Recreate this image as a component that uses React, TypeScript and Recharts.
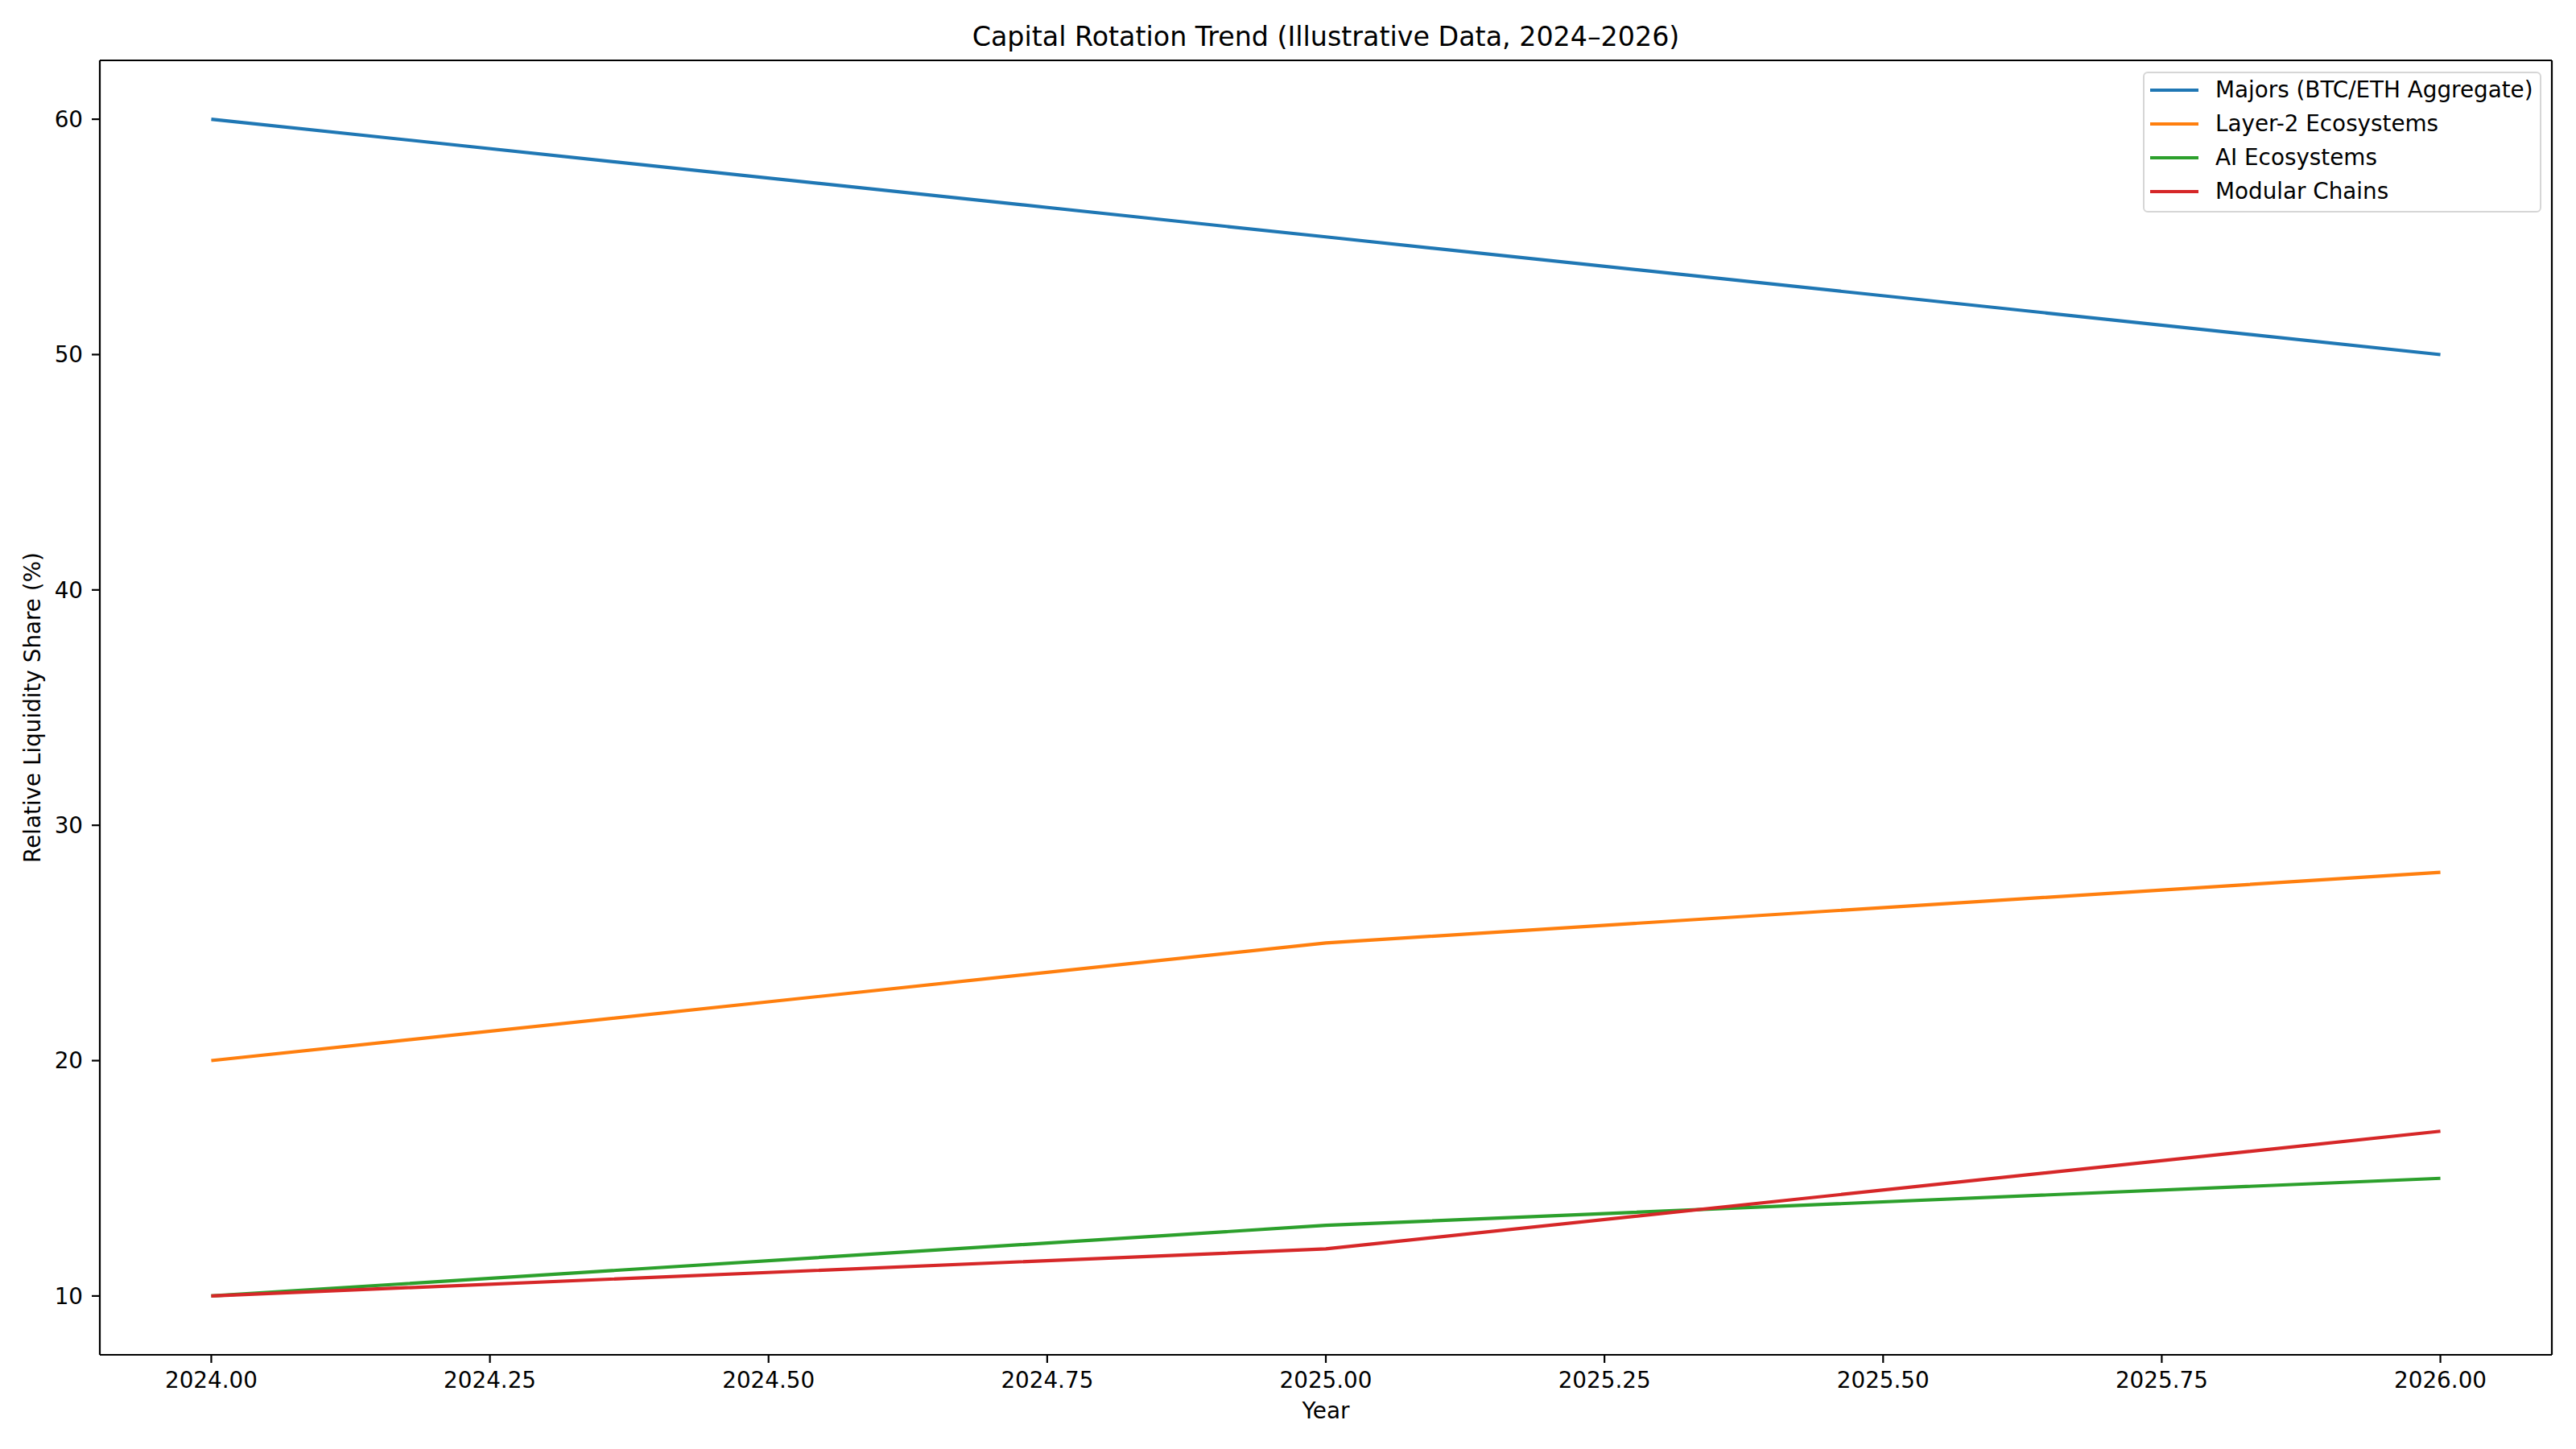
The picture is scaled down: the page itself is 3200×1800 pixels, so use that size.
import React from 'react';
import { LineChart, Line, XAxis, YAxis } from 'recharts';

const years = [2024, 2025, 2026];
const majors = [60, 55, 50];
const layer2 = [20, 25, 28];
const aiEco = [10, 13, 15];
const modular = [10, 12, 17];

const xTicks = [2024, 2024.25, 2024.5, 2024.75, 2025, 2025.25, 2025.5, 2025.75, 2026];
const yTicks = [10, 20, 30, 40, 50, 60];

const seriesKeys = ['majors', 'layer2', 'ai', 'modular'];
const seriesNames = ['Majors (BTC/ETH Aggregate)', 'Layer-2 Ecosystems', 'AI Ecosystems', 'Modular Chains'];
const seriesColors = ['#1f77b4', '#ff7f0e', '#2ca02c', '#d62728'];

const titleText = 'Capital Rotation Trend (Illustrative Data, 2024\u20132026)';
const xLabel = 'Year';
const yLabel = 'Relative Liquidity Share (%)';

const data = years.map((y, i) => ({
  year: y,
  majors: majors[i],
  layer2: layer2[i],
  ai: aiEco[i],
  modular: modular[i],
}));

const FONT = 'DejaVu Sans';
const FS = 27.8;
const W = 3200;
const H = 1800;
// plot area: left 124, top 75, right 3170, bottom 1683
const YW = 60;
const XH = 60;
const M = { top: 74, right: 29, bottom: 1800 - 1683 - XH, left: 124 - YW };

const tickStyle = { fill: '#000', fontSize: FS, fontFamily: FONT };
const axisLine = { stroke: '#000', strokeWidth: 2.2 };

function LegendBox() {
  return (
    <div style={{ position: 'absolute', left: 2662, top: 89, width: 495, height: 175, fontFamily: FONT }}>
      <div
        style={{
          position: 'absolute',
          inset: 0,
          border: '2.5px solid #d6d6d6',
          borderRadius: 6,
          background: 'rgba(255,255,255,0.8)',
          boxSizing: 'border-box',
        }}
      />
      {seriesNames.map((name, i) => {
        const cy = 22.7 + i * 42;
        return (
          <React.Fragment key={name}>
            <div
              style={{
                position: 'absolute',
                left: 9,
                top: cy - 2.1,
                width: 60,
                height: 4.2,
                background: seriesColors[i],
              }}
            />
            <div
              style={{
                position: 'absolute',
                left: 90,
                top: cy - 16,
                height: 32,
                lineHeight: '32px',
                fontSize: FS,
                color: '#000',
                whiteSpace: 'nowrap',
              }}
            >
              {name}
            </div>
          </React.Fragment>
        );
      })}
    </div>
  );
}

export default function App() {
  return (
    <div style={{ position: 'absolute', left: 0, top: 0, width: W, height: H, background: '#fff' }}>
      <LineChart width={W} height={H} data={data} margin={M}>
        <XAxis
          dataKey="year"
          type="number"
          domain={[2023.9, 2026.1]}
          ticks={xTicks}
          tickFormatter={(v: number) => v.toFixed(2)}
          allowDataOverflow
          height={XH}
          tickSize={10}
          tickMargin={11}
          tick={tickStyle}
          tickLine={axisLine}
          axisLine={axisLine}
          interval={0}
        />
        <XAxis
          xAxisId="top"
          orientation="top"
          dataKey="year"
          type="number"
          domain={[2023.9, 2026.1]}
          allowDataOverflow
          height={1}
          tick={false}
          tickLine={false}
          axisLine={axisLine}
        />
        <YAxis
          type="number"
          domain={[7.5, 62.5]}
          ticks={yTicks}
          allowDataOverflow
          width={YW}
          tickSize={10}
          tickMargin={11}
          tick={tickStyle}
          tickLine={axisLine}
          axisLine={axisLine}
          interval={0}
        />
        <YAxis
          yAxisId="right"
          orientation="right"
          type="number"
          domain={[7.5, 62.5]}
          allowDataOverflow
          width={1}
          tick={false}
          tickLine={false}
          axisLine={axisLine}
        />
        {seriesKeys.map((k, i) => (
          <Line
            key={k}
            dataKey={k}
            name={seriesNames[i]}
            type="linear"
            stroke={seriesColors[i]}
            strokeWidth={4.17}
            dot={false}
            activeDot={false}
            isAnimationActive={false}
          />
        ))}
      </LineChart>
      <LegendBox />
      <div
        style={{
          position: 'absolute',
          left: 124,
          width: 3170 - 124,
          top: 29,
          textAlign: 'center',
          fontFamily: FONT,
          fontSize: 33.3,
          lineHeight: 1,
          color: '#000',
          whiteSpace: 'nowrap',
        }}
      >
        {titleText}
      </div>
      <div
        style={{
          position: 'absolute',
          left: 124,
          width: 3170 - 124,
          top: 1763 - 24,
          textAlign: 'center',
          fontFamily: FONT,
          fontSize: FS,
          lineHeight: 1,
          color: '#000',
        }}
      >
        {xLabel}
      </div>
      <div
        style={{
          position: 'absolute',
          left: 41 - 300,
          top: 879 - 15,
          width: 600,
          height: 30,
          lineHeight: '30px',
          textAlign: 'center',
          fontFamily: FONT,
          fontSize: FS,
          color: '#000',
          transform: 'rotate(-90deg)',
          whiteSpace: 'nowrap',
        }}
      >
        {yLabel}
      </div>
    </div>
  );
}
